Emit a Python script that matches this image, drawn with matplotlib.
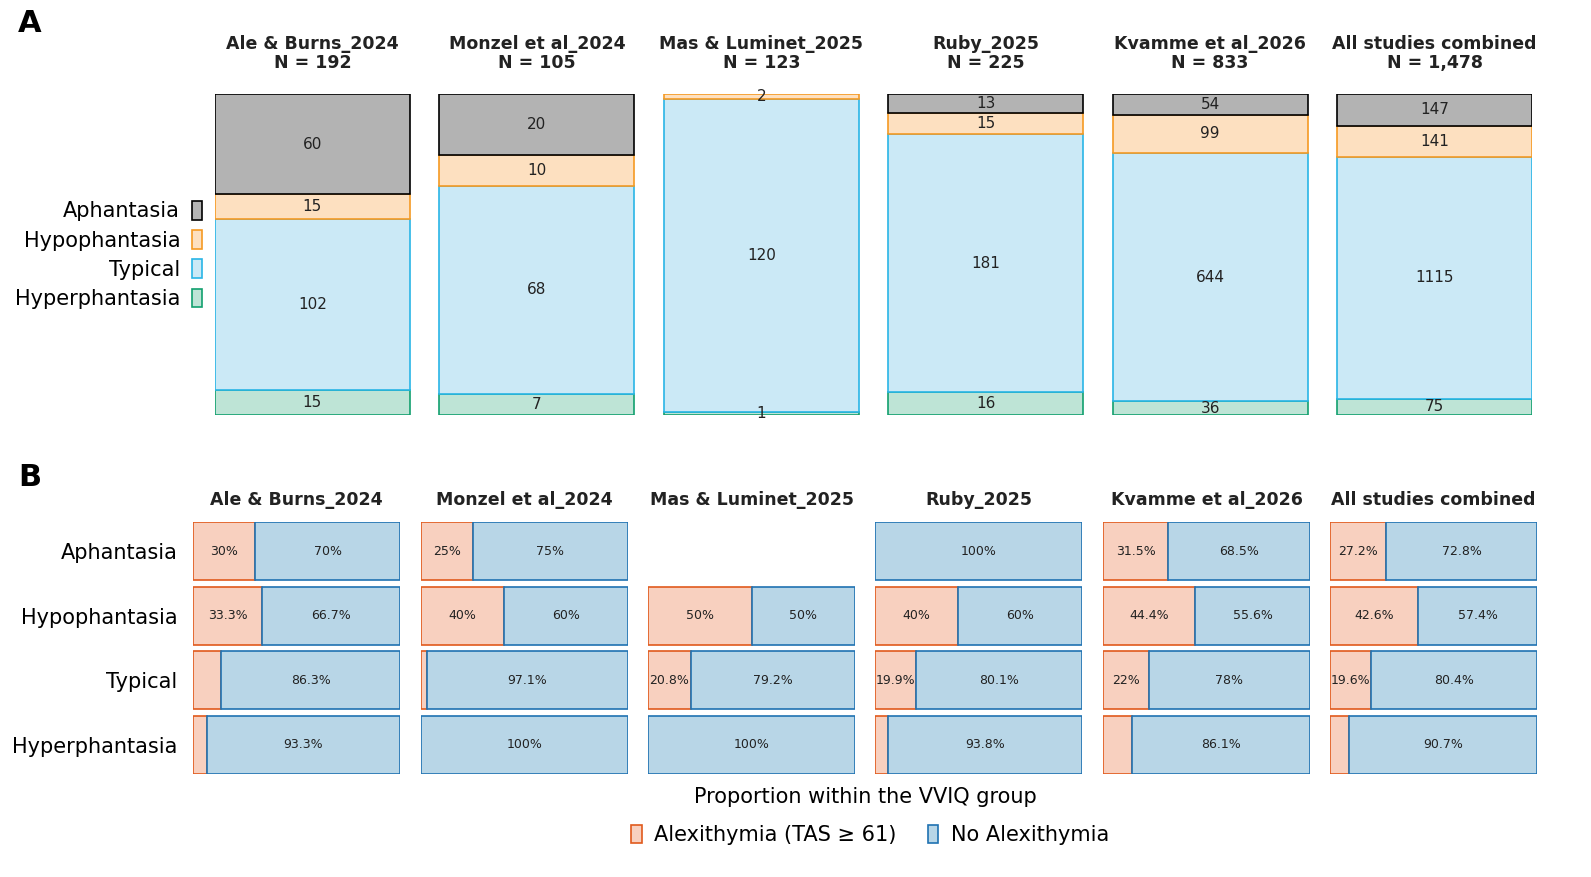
import matplotlib
matplotlib.use('Agg')
import matplotlib.pyplot as plt
from matplotlib.patches import Patch
from matplotlib.transforms import blended_transform_factory

studies = ['Ale & Burns_2024', 'Monzel et al_2024', 'Mas & Luminet_2025',
           'Ruby_2025', 'Kvamme et al_2026', 'All studies combined']
n_total = ['192', '105', '123', '225', '833', '1,478']
groups = ['Aphantasia', 'Hypophantasia', 'Typical', 'Hyperphantasia']

# counts per VVIQ group (panel A)
aphantasia = [60, 20, 0, 13, 54, 147]
hypophantasia = [15, 10, 2, 15, 99, 141]
typical = [102, 68, 120, 181, 644, 1115]
hyperphantasia = [15, 7, 1, 16, 36, 75]

# percent with alexithymia / without, rows = groups (panel B); None = no data
alex_pct = [
    [30, 33.3, 13.7, 6.7],
    [25, 40, 2.9, 0],
    [None, 50, 20.8, 0],
    [0, 40, 19.9, 6.2],
    [31.5, 44.4, 22, 13.9],
    [27.2, 42.6, 19.6, 9.3],
]
noalex_pct = [
    [70, 66.7, 86.3, 93.3],
    [75, 60, 97.1, 100],
    [None, 50, 79.2, 100],
    [100, 60, 80.1, 93.8],
    [68.5, 55.6, 78, 86.1],
    [72.8, 57.4, 80.4, 90.7],
]

face = {'Aphantasia': '#b3b3b3', 'Hypophantasia': '#fde0c0',
        'Typical': '#cbe9f6', 'Hyperphantasia': '#bee4d6'}
edge = {'Aphantasia': '#000000', 'Hypophantasia': '#f59a23',
        'Typical': '#29b5e6', 'Hyperphantasia': '#12a06e'}
alex_face, alex_edge = '#f8d0bf', '#e05a1c'
no_face, no_edge = '#b8d6e7', '#1f72b2'

W, H = 1591, 877
fig = plt.figure(figsize=(W / 100, H / 100), dpi=100)
plt.rcParams['font.family'] = ['DejaVu Sans']


def px_axes(x0, y0, x1, y1):
    return fig.add_axes([x0 / W, 1 - y1 / H, (x1 - x0) / W, (y1 - y0) / H])


# ---------------- panel A ----------------
axA = px_axes(215, 94, 1532, 415)
bw = 0.868
counts = {'Aphantasia': aphantasia, 'Hypophantasia': hypophantasia,
          'Typical': typical, 'Hyperphantasia': hyperphantasia}
for i in range(len(studies)):
    tot = sum(counts[g][i] for g in groups)
    bottom = 0
    for g in groups[::-1]:
        v = counts[g][i]
        if v == 0:
            continue
        h = v / tot
        axA.bar(i, h, bottom=bottom, width=bw, color=face[g], edgecolor=edge[g], linewidth=1.2)
        axA.text(i, bottom + h / 2, str(v), ha='center', va='center', fontsize=11, color='#222222')
        bottom += h
axA.set_xlim(-bw / 2, len(studies) - 1 + bw / 2)
axA.set_ylim(0, 1)
axA.axis('off')
trA = blended_transform_factory(axA.transData, axA.transAxes)
for i, s in enumerate(studies):
    axA.annotate(s + '\nN = ' + n_total[i], xy=(i, 1), xycoords=trA, xytext=(0, 16),
                 textcoords='offset points', ha='center', va='bottom',
                 fontsize=12.5, fontweight='bold', color='#222222', linespacing=1.05)

handlesA = [Patch(facecolor=face[g], edgecolor=edge[g], linewidth=1.2, label=g) for g in groups]
fig.legend(handles=handlesA, loc='center right', bbox_to_anchor=(202 / W, 1 - 255 / H),
           frameon=False, markerfirst=False, fontsize=15, handlelength=0.5, handleheight=1.0,
           handletextpad=0.55, labelspacing=0.42, borderpad=0, borderaxespad=0)

fig.text(18 / W, 1 - 24 / H, 'A', fontsize=22, fontweight='bold', va='center', ha='left')
fig.text(18 / W, 1 - 478 / H, 'B', fontsize=22, fontweight='bold', va='center', ha='left')

# ---------------- panel B ----------------
lefts = [193, 421, 648, 875, 1103, 1330]
bh = 0.9
for i, s in enumerate(studies):
    ax = px_axes(lefts[i], 522, lefts[i] + 207, 774)
    for r in range(len(groups)):
        a = alex_pct[i][r]
        b = noalex_pct[i][r]
        if a is None:
            continue
        if a > 0:
            ax.barh(r, a, height=bh, color=alex_face, edgecolor=alex_edge, linewidth=1.2)
            if a >= 15:
                ax.text(a / 2, r, f'{a:g}%', ha='center', va='center', fontsize=9, color='#222222')
        ax.barh(r, b, left=a, height=bh, color=no_face, edgecolor=no_edge, linewidth=1.2)
        ax.text(a + b / 2, r, f'{b:g}%', ha='center', va='center', fontsize=9, color='#222222')
    ax.set_xlim(0, 100)
    ax.set_ylim(len(groups) - 1 + bh / 2, -bh / 2)
    for sp in ax.spines.values():
        sp.set_visible(False)
    ax.set_xticks([])
    if i == 0:
        ax.set_yticks(range(len(groups)))
        ax.set_yticklabels(groups, fontsize=15)
        ax.tick_params(axis='y', length=0, pad=11)
    else:
        ax.set_yticks([])
    ax.set_title(s, fontsize=12.5, fontweight='bold', color='#222222', pad=12)

fig.text(865 / W, 1 - 797 / H, 'Proportion within the VVIQ group', ha='center', va='center', fontsize=15)
handlesB = [Patch(facecolor=alex_face, edgecolor=alex_edge, linewidth=1.2, label='Alexithymia (TAS ≥ 61)'),
            Patch(facecolor=no_face, edgecolor=no_edge, linewidth=1.2, label='No Alexithymia')]
fig.legend(handles=handlesB, loc='center', bbox_to_anchor=(870 / W, 1 - 835 / H), ncol=2,
           frameon=False, fontsize=15, handlelength=0.5, handleheight=1.0, handletextpad=0.6,
           columnspacing=1.5, borderpad=0, borderaxespad=0)

fig.savefig('out.png', dpi=100)
